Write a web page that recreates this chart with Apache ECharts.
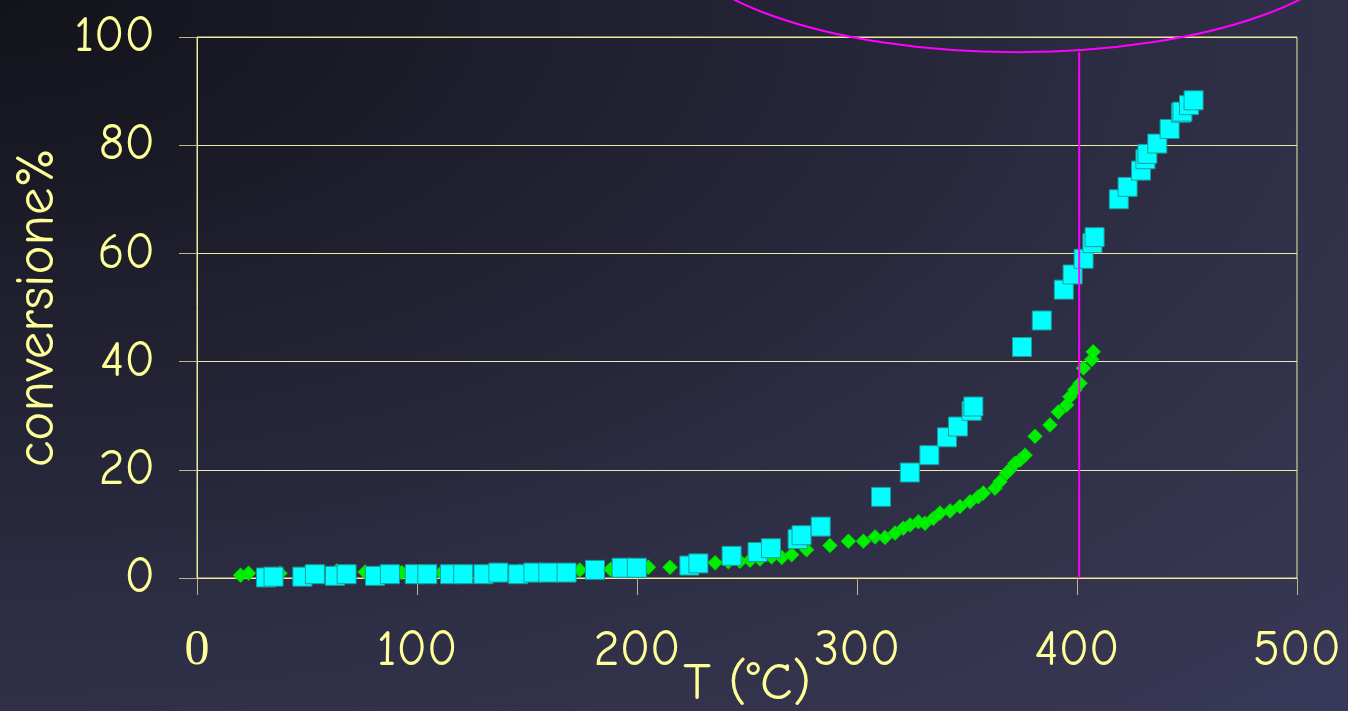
<!DOCTYPE html>
<html>
<head>
<meta charset="utf-8">
<script src="https://cdn.jsdelivr.net/npm/echarts@6/dist/echarts.min.js"></script>
<style>
html,body{margin:0;padding:0;width:1348px;height:711px;overflow:hidden;}
#c{width:1348px;height:711px;background:radial-gradient(ellipse farthest-corner at 0 0,#13131b 0%,#1f1f2e 30%,#2c2c43 60%,#35354f 85%,#38385a 100%);}
</style>
</head>
<body>
<div id="c"></div>
<script>
// ---- data ----
const xTicks = [0, 100, 200, 300, 400, 500];
const yTicks = [0, 20, 40, 60, 80, 100];
const xName = 'T (°C)';
const yName = 'conversione%';

// green diamonds [T, conversion]
const greenSeries = [
  [19.8,0.5],[23.4,0.9],[37.7,0.9],[49.5,1.0],[63.5,1.3],[76.4,1.1],[93,1.0],[104,1.1],
  [111.2,1.0],[122,1.1],[135,1.2],[146.8,1.3],[153,1.3],[160,1.3],[165,1.3],[174,1.5],
  [188,1.6],[205.2,2.0],[215,2.0],[224.8,2.4],[235.5,2.8],[241.5,3.0],[246.8,3.1],[251.4,3.3],
  [255.9,3.5],[261.2,3.9],[265.8,3.8],[270.3,4.3],[277.1,5.2],[287.7,6.0],[296.1,6.8],[302.9,6.8],
  [308.2,7.6],[312.7,7.5],[317.3,8.3],[321,9.2],[324.1,9.8],[327.9,10.4],[330.9,10.1],[334.7,11.0],
  [337.7,12.0],[342.3,12.4],[346.8,13.2],[351.4,14.1],[355.1,15.0],[357.4,15.7],[362.7,16.6],[365,17.8],
  [368,19.4],[369.5,20.0],[371.8,21.2],[374.1,21.8],[376.4,22.7],[380.9,26.2],[387.7,28.3],[391.5,30.7],
  [395.3,32.0],[396.8,33.5],[399.1,34.8],[401.4,36.0],[402.9,38.8],[406.7,40.4],[407.4,41.8]
];

// cyan squares [T, conversion]
const cyanSeries = [
  [31.4,0.1],[34.8,0.25],[47.9,0.25],[53.6,0.7],[62.7,0.4],[68,0.7],[80.9,0.4],[87.7,0.7],
  [99,0.7],[104.7,0.7],[115,0.7],[121,0.7],[130.2,0.7],[137,1.0],[146,0.7],[152.9,1.0],
  [159.7,1.0],[168,1.0],[180.9,1.5],[193,1.9],[199.9,1.9],[223.8,2.3],[227.9,2.7],[243,4.1],
  [254.8,4.8],[260.9,5.5],[273,7.2],[274.8,7.9],[283.5,9.5],[310.9,15.0],[324,19.5],[332.9,22.7],
  [340.9,26.0],[345.9,28.0],[352.1,30.9],[352.9,31.7],[375,42.7],[384,47.6],[394,53.3],[398,56.1],
  [403,59.0],[407,61.9],[408,63.0],[419,70.0],[423,72.3],[429.1,75.3],[431.1,77.4],[432,78.4],
  [436.5,80.3],[442.1,83.0],[447.3,86.0],[447.9,86.2],[450.9,87.4],[453,88.3]
];

// magenta annotation (data units)
const markerLine = [[401, 97.2], [401, 0]];
const ellipseCenter = [372.7, 120.3];
const ellipseRadii = [157.7, 23.1];

// ---- chart ----
const YEL = '#ffff99';
const LINE = '#eeeaa0';
const TICK = '#bdb58e';
const FONT = '"Comic Sans MS","Comic Neue","Open Sans",sans-serif';

const chart = echarts.init(document.getElementById('c'), null, {renderer: 'canvas'});
chart.setOption({
  backgroundColor: 'transparent',
  animation: false,
  grid: {left: 197, right: 51, top: 37, bottom: 133, show: true, borderColor: LINE, borderWidth: 1,
         backgroundColor: 'transparent', containLabel: false, outerBoundsMode: 'none'},
  xAxis: {
    type: 'value', min: xTicks[0], max: xTicks[xTicks.length - 1], interval: 100,
    name: xName, nameLocation: 'middle', nameGap: 80, nameMoveOverlap: false,
    nameTextStyle: {color: YEL, fontSize: 53, fontFamily: FONT},
    axisLine: {show: true, onZero: false, lineStyle: {color: LINE, width: 1}},
    axisTick: {show: true, length: 17, lineStyle: {color: TICK, width: 1}},
    splitLine: {show: false},
    axisLabel: {
      color: YEL, fontSize: 50, fontFamily: FONT, margin: 48,
      formatter: v => v === 0 ? '{s|0}' : String(v),
      rich: {s: {fontFamily: '"Liberation Serif","Times New Roman",serif', fontSize: 50, color: YEL}}
    }
  },
  yAxis: {
    type: 'value', min: yTicks[0], max: yTicks[yTicks.length - 1], interval: 20,
    name: yName, nameLocation: 'middle', nameGap: 132, nameRotate: 90, nameMoveOverlap: false,
    nameTextStyle: {color: YEL, fontSize: 55, fontFamily: FONT},
    axisLine: {show: true, onZero: false, lineStyle: {color: LINE, width: 1}},
    axisTick: {show: true, length: 18, lineStyle: {color: TICK, width: 1}},
    splitLine: {show: true, lineStyle: {color: LINE, width: 1}},
    axisLabel: {color: YEL, fontSize: 50, fontFamily: FONT, margin: 42}
  },
  series: [
    {
      type: 'scatter', name: 'green', data: greenSeries, symbol: 'diamond', symbolSize: 15,
      itemStyle: {color: '#00ee00', borderColor: '#00c800', borderWidth: 0.5, opacity: 1}, z: 2
    },
    {
      type: 'scatter', name: 'cyan', data: cyanSeries, symbol: 'rect', symbolSize: 19,
      itemStyle: {color: '#00ffff', borderColor: '#1f9a9a', borderWidth: 1, opacity: 1}, z: 3
    },
    {
      type: 'line', name: 'marker', data: markerLine, symbol: 'none', clip: false,
      lineStyle: {color: '#ff00ff', width: 2}, z: 5, silent: true
    }
  ]
});

function drawEllipse() {
  const c = chart.convertToPixel({gridIndex: 0}, ellipseCenter);
  const p = chart.convertToPixel({gridIndex: 0}, [ellipseCenter[0] + ellipseRadii[0], ellipseCenter[1] - ellipseRadii[1]]);
  const rx = Math.abs(p[0] - c[0]);
  const ry = Math.abs(p[1] - c[1]);
  chart.setOption({
    graphic: [{
      type: 'ellipse', z: 10, silent: true,
      shape: {cx: c[0], cy: c[1], rx: rx, ry: ry},
      style: {fill: 'none', stroke: '#ff00ff', lineWidth: 2}
    }]
  });
}
drawEllipse();
</script>
</body>
</html>
